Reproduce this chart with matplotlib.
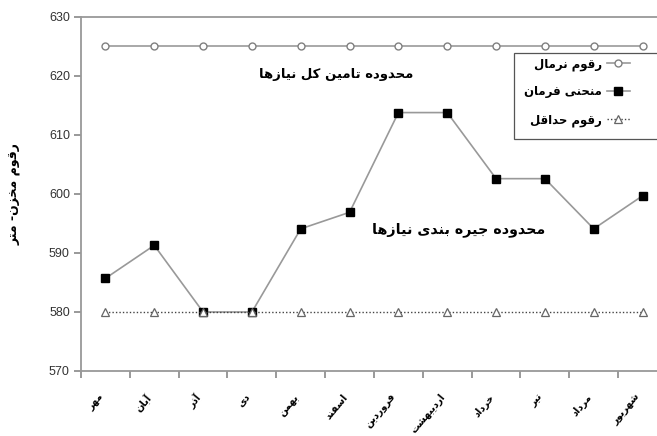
import numpy as np
import matplotlib
matplotlib.use("Agg")
import matplotlib.pyplot as plt
from matplotlib.transforms import ScaledTranslation
from matplotlib.patches import Rectangle

# monthly reservoir levels (m)
months = ["مهر", "آبان", "آذر", "دی", "بهمن", "اسفند",
          "فروردین", "اردیبهشت", "خرداد", "تیر", "مرداد", "شهریور"]
normal_level = [625, 625, 625, 625, 625, 625, 625, 625, 625, 625, 625, 625]
rule_curve = [585.7, 591.3, 580.0, 580.0, 594.1, 596.9,
              613.8, 613.8, 602.6, 602.6, 594.1, 599.7]
min_level = [580, 580, 580, 580, 580, 580, 580, 580, 580, 580, 580, 580]

legend_labels = ["رقوم نرمال", "منحنی فرمان", "رقوم حداقل"]
ylabel = "رقوم مخزن- متر"
zone_top = "محدوده تامین کل نیازها"
zone_low = "محدوده جیره بندی نیازها"

# --- minimal arabic/persian shaping (matplotlib has no bidi support) ---
# letter: (isolated, final, initial, medial); two entries -> right-joining only
FORMS = {
    "ا": (0xFE8D, 0xFE8E), "آ": (0xFE81, 0xFE82),
    "د": (0xFEA9, 0xFEAA), "ذ": (0xFEAB, 0xFEAC),
    "ر": (0xFEAD, 0xFEAE), "ز": (0xFEAF, 0xFEB0),
    "و": (0xFEED, 0xFEEE),
    "ب": (0xFE8F, 0xFE90, 0xFE91, 0xFE92), "ت": (0xFE95, 0xFE96, 0xFE97, 0xFE98),
    "ج": (0xFE9D, 0xFE9E, 0xFE9F, 0xFEA0), "ح": (0xFEA1, 0xFEA2, 0xFEA3, 0xFEA4),
    "خ": (0xFEA5, 0xFEA6, 0xFEA7, 0xFEA8), "س": (0xFEB1, 0xFEB2, 0xFEB3, 0xFEB4),
    "ش": (0xFEB5, 0xFEB6, 0xFEB7, 0xFEB8), "ف": (0xFED1, 0xFED2, 0xFED3, 0xFED4),
    "ق": (0xFED5, 0xFED6, 0xFED7, 0xFED8), "ل": (0xFEDD, 0xFEDE, 0xFEDF, 0xFEE0),
    "م": (0xFEE1, 0xFEE2, 0xFEE3, 0xFEE4), "ن": (0xFEE5, 0xFEE6, 0xFEE7, 0xFEE8),
    "ه": (0xFEE9, 0xFEEA, 0xFEEB, 0xFEEC), "ی": (0xFBFC, 0xFBFD, 0xFBFE, 0xFBFF),
    "ک": (0xFB8E, 0xFB8F, 0xFB90, 0xFB91),
}


def shape(text):
    out = []
    n = len(text)
    for i, ch in enumerate(text):
        if ch not in FORMS:
            out.append(ch)
            continue
        f = FORMS[ch]
        prev = text[i - 1] if i > 0 else None
        nxt = text[i + 1] if i < n - 1 else None
        join_prev = prev in FORMS and len(FORMS[prev]) == 4
        join_next = len(f) == 4 and nxt in FORMS
        if join_prev and join_next:
            out.append(chr(f[3]))
        elif join_prev:
            out.append(chr(f[1]))
        elif join_next:
            out.append(chr(f[2]))
        else:
            out.append(chr(f[0]))
    return "".join(out)[::-1]


plt.rcParams["font.family"] = ["Liberation Sans", "DejaVu Sans"]
fa = dict(family="DejaVu Sans", weight="bold")

fig = plt.figure(figsize=(6.57, 4.36), dpi=100)
ax = fig.add_axes([81 / 657, 65 / 436, 586 / 657, 354 / 436])

x = np.arange(len(months))
ax.plot(x, normal_level, color="#999999", lw=1.2, marker="o", ms=5,
        mfc="white", mec="#808080", mew=1.0, label=shape(legend_labels[0]))
ax.plot(x, rule_curve, color="#999999", lw=1.2, marker="s", ms=5.5,
        mfc="black", mec="black", label=shape(legend_labels[1]))
ax.plot(x, min_level, color="#444444", lw=1.0, ls=(0, (1, 1.5)), marker="^",
        ms=5.5, mfc="white", mec="#666666", mew=0.9, label=shape(legend_labels[2]))

ax.set_xlim(-0.5, len(months) - 0.5)
ax.set_ylim(570, 630)
ax.set_yticks(np.arange(570, 631, 10))
ax.set_xticks(x)
ax.set_xticklabels([shape(m) for m in months], rotation=50, ha="right",
                   va="top", fontsize=7, **fa)
shift = ScaledTranslation(-9 / 100, 0, fig.dpi_scale_trans)
for lab in ax.get_xticklabels():
    lab.set_transform(lab.get_transform() + shift)
ax.set_xticks(np.arange(-0.5, len(months), 1), minor=True)
ax.tick_params(axis="x", which="major", length=0, pad=15)
ax.tick_params(axis="x", which="minor", length=5, color="#888888", width=1.2)
ax.tick_params(axis="y", length=5, color="#888888", width=1.2,
               labelsize=9, labelcolor="#333333", pad=3)

for s in ["left", "bottom", "top"]:
    ax.spines[s].set_color("#999999")
    ax.spines[s].set_linewidth(1.3)
ax.spines["right"].set_visible(False)

ax.set_ylabel(shape(ylabel), fontsize=9, labelpad=20, **fa)

ax.text(4.73, 620.3, shape(zone_top), fontsize=9.5, ha="center", va="center", **fa)
ax.text(7.23, 594.0, shape(zone_low), fontsize=10.3, ha="center", va="center", **fa)

# legend box runs off the right edge like in the original
ax.add_patch(Rectangle((514 / 657, 1 - 139 / 436), 160 / 657, 86 / 436,
                       transform=fig.transFigure, facecolor="white",
                       edgecolor="#555555", lw=0.9, zorder=4.5, clip_on=False))
leg = ax.legend(loc="upper left", bbox_to_anchor=(524 / 657, 1 - 57 / 436),
                bbox_transform=fig.transFigure, markerfirst=False, frameon=False,
                borderaxespad=0, borderpad=0,
                prop=dict(family="DejaVu Sans", weight="bold", size=8.5),
                handlelength=2.0, handletextpad=0.4, labelspacing=1.25)
leg.set_zorder(6)

fig.savefig("out.png", dpi=100)
